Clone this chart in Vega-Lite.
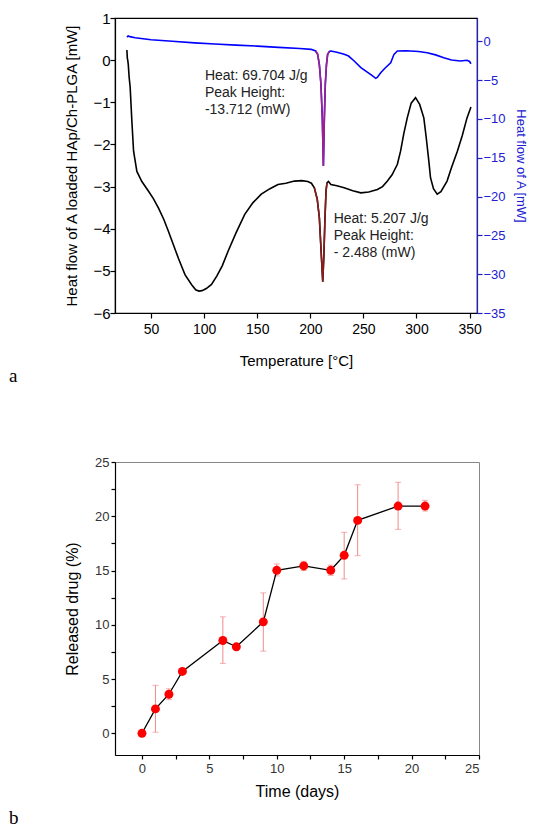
{
  "$schema": "https://vega.github.io/schema/vega-lite/v6.json",
  "background": "white",
  "padding": {"left": 8, "top": 10, "right": 5, "bottom": 5},
  "spacing": 68,
  "config": {
    "font": "Liberation Sans",
    "view": {"stroke": null},
    "axis": {"domainColor": "black", "tickColor": "black", "labelColor": "black", "titleColor": "black", "titleFontWeight": "normal", "grid": false, "domainWidth": 1.2, "tickWidth": 1.2}
  },
  "datasets": {
    "black": [
      {"T": 27.2, "v": 0.24}, {"T": 27.6, "v": 0.05}, {"T": 28.0, "v": 0.0}, {"T": 28.5, "v": -0.1}, {"T": 29.3, "v": -0.4}, {"T": 30.3, "v": -0.65}, {"T": 31.9, "v": -1.45}, {"T": 33.5, "v": -2.16}, {"T": 36.6, "v": -2.64}, {"T": 41.3, "v": -2.88}, {"T": 47.6, "v": -3.11}, {"T": 52, "v": -3.28}, {"T": 57, "v": -3.51}, {"T": 62, "v": -3.78}, {"T": 66.3, "v": -4.06}, {"T": 71, "v": -4.38}, {"T": 75.7, "v": -4.7}, {"T": 81.9, "v": -5.09}, {"T": 88.2, "v": -5.33}, {"T": 92, "v": -5.45}, {"T": 95, "v": -5.48}, {"T": 98, "v": -5.47}, {"T": 102, "v": -5.42}, {"T": 106.9, "v": -5.32}, {"T": 112, "v": -5.12}, {"T": 117, "v": -4.88}, {"T": 122.6, "v": -4.53}, {"T": 130, "v": -4.1}, {"T": 138.2, "v": -3.66}, {"T": 146, "v": -3.38}, {"T": 153.8, "v": -3.18}, {"T": 162, "v": -3.05}, {"T": 169.5, "v": -2.95}, {"T": 177, "v": -2.92}, {"T": 185, "v": -2.87}, {"T": 192, "v": -2.86}, {"T": 197.6, "v": -2.88}, {"T": 201, "v": -2.92}, {"T": 203.8, "v": -3.03}, {"T": 206.5, "v": -3.3}, {"T": 208.5, "v": -3.74}, {"T": 210.3, "v": -4.6}, {"T": 211.7, "v": -5.26}, {"T": 212.8, "v": -4.6}, {"T": 213.8, "v": -3.74}, {"T": 214.8, "v": -3.1}, {"T": 215.7, "v": -2.91}, {"T": 217, "v": -2.88}, {"T": 219.4, "v": -2.95}, {"T": 225, "v": -2.98}, {"T": 231.9, "v": -3.03}, {"T": 240, "v": -3.1}, {"T": 247.6, "v": -3.15}, {"T": 255, "v": -3.13}, {"T": 263.2, "v": -3.07}, {"T": 268, "v": -3.0}, {"T": 272.6, "v": -2.87}, {"T": 277, "v": -2.72}, {"T": 282, "v": -2.47}, {"T": 285, "v": -2.16}, {"T": 288, "v": -1.75}, {"T": 291.3, "v": -1.37}, {"T": 295, "v": -1.02}, {"T": 299.1, "v": -0.89}, {"T": 303, "v": -1.05}, {"T": 306.9, "v": -1.37}, {"T": 309, "v": -1.8}, {"T": 311.6, "v": -2.39}, {"T": 313.2, "v": -2.79}, {"T": 316, "v": -3.05}, {"T": 319.5, "v": -3.18}, {"T": 323, "v": -3.12}, {"T": 328.8, "v": -2.87}, {"T": 333, "v": -2.55}, {"T": 338.5, "v": -2.16}, {"T": 343, "v": -1.8}, {"T": 347.6, "v": -1.37}, {"T": 351.3, "v": -1.11}
    ],
    "blue": [
      {"T": 27.2, "v": 0.55}, {"T": 28.5, "v": 0.68}, {"T": 30, "v": 0.6}, {"T": 35, "v": 0.45}, {"T": 50, "v": 0.2}, {"T": 70, "v": 0.0}, {"T": 91, "v": -0.2}, {"T": 110, "v": -0.35}, {"T": 130, "v": -0.5}, {"T": 150, "v": -0.62}, {"T": 170, "v": -0.78}, {"T": 190, "v": -0.93}, {"T": 200.7, "v": -1.04}, {"T": 205, "v": -1.25}, {"T": 206.9, "v": -1.68}, {"T": 208.5, "v": -3.0}, {"T": 210, "v": -5.54}, {"T": 211.3, "v": -10}, {"T": 212.3, "v": -16.06}, {"T": 213.2, "v": -10}, {"T": 214.1, "v": -5.54}, {"T": 215.2, "v": -3.0}, {"T": 216.3, "v": -1.68}, {"T": 218, "v": -1.3}, {"T": 219.4, "v": -1.25}, {"T": 225, "v": -1.4}, {"T": 231.9, "v": -1.68}, {"T": 236, "v": -1.9}, {"T": 241.3, "v": -2.54}, {"T": 247.6, "v": -3.4}, {"T": 254, "v": -4.0}, {"T": 258, "v": -4.4}, {"T": 261.6, "v": -4.77}, {"T": 263, "v": -4.65}, {"T": 266.3, "v": -4.05}, {"T": 270, "v": -3.5}, {"T": 275.7, "v": -2.76}, {"T": 278.8, "v": -1.68}, {"T": 282, "v": -1.25}, {"T": 290, "v": -1.22}, {"T": 294.4, "v": -1.25}, {"T": 302, "v": -1.32}, {"T": 310.1, "v": -1.47}, {"T": 318, "v": -1.75}, {"T": 325.7, "v": -2.11}, {"T": 333, "v": -2.4}, {"T": 341.3, "v": -2.54}, {"T": 347.6, "v": -2.45}, {"T": 350, "v": -2.6}, {"T": 351.3, "v": -2.89}
    ],
    "notes": [
      {"T": 100.7, "v": -0.21, "label": "Heat: 69.704 J/g\nPeak Height:\n\u00a0-13.712 (mW)"},
      {"T": 222, "v": -3.6, "label": "Heat: 5.207 J/g\nPeak Height:\n- 2.488 (mW)"}
    ],
    "release": [
      {"t": 0, "v": 0, "lo": null, "hi": null},
      {"t": 1, "v": 2.25, "lo": 0.1, "hi": 4.42},
      {"t": 2, "v": 3.6, "lo": 3.1, "hi": 4.1},
      {"t": 3, "v": 5.7, "lo": 5.5, "hi": 5.9},
      {"t": 6, "v": 8.55, "lo": 6.44, "hi": 10.73},
      {"t": 7, "v": 7.97, "lo": 7.8, "hi": 8.15},
      {"t": 9, "v": 10.27, "lo": 7.57, "hi": 12.94},
      {"t": 10, "v": 15.02, "lo": 14.5, "hi": 15.6},
      {"t": 12, "v": 15.42, "lo": 15.0, "hi": 15.85},
      {"t": 14, "v": 15.02, "lo": 14.55, "hi": 15.5},
      {"t": 15, "v": 16.4, "lo": 14.22, "hi": 18.52},
      {"t": 16, "v": 19.62, "lo": 16.37, "hi": 22.9},
      {"t": 19, "v": 20.94, "lo": 18.79, "hi": 23.13},
      {"t": 21, "v": 20.94, "lo": 20.48, "hi": 21.47}
    ]
  },
  "vconcat": [
    {
      "width": 362,
      "height": 295,
      "view": {"stroke": "black", "strokeWidth": 1.2},
      "title": {"text": "a", "orient": "bottom", "anchor": "start", "frame": "group", "font": "Liberation Serif", "fontSize": 19, "fontWeight": "normal", "color": "black", "dx": -106, "dy": -3, "offset": 2},
      "resolve": {"scale": {"y": "independent"}},
      "layer": [
        {
          "layer": [
            {
              "data": {"name": "black"},
              "mark": {"type": "line", "color": "black", "strokeWidth": 1.6},
              "encoding": {
                "x": {"field": "T", "type": "quantitative", "scale": {"domain": [16, 357], "nice": false, "zero": false},
                  "axis": {"orient": "bottom", "values": [50, 100, 150, 200, 250, 300, 350], "tickSize": 5, "labelPadding": 4, "labelFontSize": 14, "title": "Temperature [°C]", "titleFontSize": 15, "titlePadding": 17}},
                "y": {"field": "v", "type": "quantitative", "scale": {"domain": [-6, 1], "nice": false, "zero": false},
                  "axis": {"orient": "left", "values": [-6, -5.5, -5, -4.5, -4, -3.5, -3, -2.5, -2, -1.5, -1, -0.5, 0, 0.5, 1], "labelExpr": "datum.value % 1 == 0 ? datum.label : ''", "tickSize": 5, "labelPadding": 0, "labelFontSize": 15, "title": "Heat flow of A loaded HAp/Ch-PLGA [mW]", "titleFontSize": 15, "titlePadding": 13}}
              }
            },
            {
              "data": {"name": "black"},
              "transform": [{"filter": "datum.T >= 203 && datum.T <= 216"}],
              "mark": {"type": "line", "color": "#8b1c1c", "strokeWidth": 1.6},
              "encoding": {"x": {"field": "T", "type": "quantitative"}, "y": {"field": "v", "type": "quantitative"}}
            },
            {
              "data": {"name": "notes"},
              "mark": {"type": "text", "align": "left", "baseline": "top", "fontSize": 14, "lineHeight": 17, "lineBreak": "\n", "color": "#222"},
              "encoding": {"x": {"field": "T", "type": "quantitative"}, "y": {"field": "v", "type": "quantitative"}, "text": {"field": "label"}}
            }
          ]
        },
        {
          "layer": [
            {
              "data": {"name": "blue"},
              "mark": {"type": "line", "color": "#0000ff", "strokeWidth": 1.6},
              "encoding": {
                "x": {"field": "T", "type": "quantitative"},
                "y": {"field": "v", "type": "quantitative", "scale": {"domain": [-35, 3], "nice": false, "zero": false},
                  "axis": {"orient": "right", "values": [-35, -32.5, -30, -27.5, -25, -22.5, -20, -17.5, -15, -12.5, -10, -7.5, -5, -2.5, 0, 2.5], "labelExpr": "datum.value % 5 == 0 ? datum.label : ''", "tickSize": 5, "labelPadding": 1, "labelFontSize": 13, "domainColor": "#2020d0", "tickColor": "#2020d0", "labelColor": "#2020d0", "titleColor": "#2020d0", "title": "Heat flow of A [mW]", "titleFontSize": 13, "titlePadding": 8}}
              }
            },
            {
              "data": {"name": "blue"},
              "transform": [{"filter": "datum.T >= 204 && datum.T <= 218"}],
              "mark": {"type": "line", "color": "#a0208c", "strokeWidth": 1.6},
              "encoding": {"x": {"field": "T", "type": "quantitative"}, "y": {"field": "v", "type": "quantitative"}}
            }
          ]
        }
      ]
    },
    {
      "width": 364,
      "height": 293,
      "view": {"stroke": "#888", "strokeWidth": 1},
      "title": {"text": "b", "orient": "bottom", "anchor": "start", "frame": "group", "font": "Liberation Serif", "fontSize": 19, "fontWeight": "normal", "color": "black", "dx": -106, "offset": 10},
      "data": {"name": "release"},
      "encoding": {
        "x": {"field": "t", "type": "quantitative", "scale": {"domain": [-2, 25], "nice": false, "zero": false},
          "axis": {"values": [0, 2.5, 5, 7.5, 10, 12.5, 15, 17.5, 20, 22.5, 25], "labelExpr": "datum.value % 5 == 0 ? datum.label : ''", "tickSize": 4, "labelPadding": 3, "labelFontSize": 13, "labelColor": "#333", "title": "Time (days)", "titleFontSize": 16, "titlePadding": 8}},
        "y": {"field": "v", "type": "quantitative", "scale": {"domain": [-2, 25], "nice": false, "zero": false},
          "axis": {"values": [0, 2.5, 5, 7.5, 10, 12.5, 15, 17.5, 20, 22.5, 25], "labelExpr": "datum.value % 5 == 0 ? datum.label : ''", "tickSize": 4, "labelPadding": 2, "labelFontSize": 13, "labelColor": "#333", "title": "Released drug (%)", "titleFontSize": 16, "titlePadding": 14}}
      },
      "layer": [
        {
          "mark": {"type": "rule", "color": "#f28a8a", "strokeWidth": 1},
          "encoding": {"y": {"field": "lo", "type": "quantitative"}, "y2": {"field": "hi"}}
        },
        {
          "mark": {"type": "tick", "orient": "horizontal", "color": "#f28a8a", "size": 6, "thickness": 1},
          "encoding": {"y": {"field": "lo", "type": "quantitative"}}
        },
        {
          "mark": {"type": "tick", "orient": "horizontal", "color": "#f28a8a", "size": 6, "thickness": 1},
          "encoding": {"y": {"field": "hi", "type": "quantitative"}}
        },
        {
          "mark": {"type": "line", "color": "black", "strokeWidth": 1.3}
        },
        {
          "mark": {"type": "point", "filled": true, "shape": "circle", "size": 80, "color": "#ff0000", "opacity": 1}
        }
      ]
    }
  ]
}
